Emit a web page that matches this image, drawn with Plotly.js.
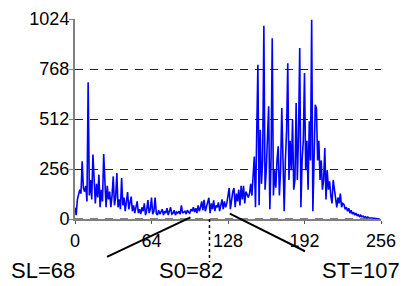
<!DOCTYPE html>
<html>
<head>
<meta charset="utf-8">
<script src="https://cdn.plot.ly/plotly-3.0.1.min.js"></script>
<style>
html,body{margin:0;padding:0;background:#fff;}
#chart{width:404px;height:286px;}
</style>
</head>
<body>
<div id="chart"></div>
<script>
// Grey-level histogram counts (bins 0..255)
const counts = [
  58, 20, 100, 120, 150, 130, 295, 160, 140, 170, 90, 700, 120, 200, 100, 330,
  150, 80, 180, 110, 227, 60, 150, 90, 333, 140, 60, 170, 100, 140, 60, 120,
  218, 70, 110, 235, 60, 100, 50, 210, 70, 110, 40, 90, 138, 50, 80, 115,
  40, 70, 30, 60, 90, 30, 50, 25, 60, 40, 80, 20, 45, 97, 30, 50,
  110, 25, 40, 110, 30, 20, 45, 25, 35, 50, 20, 40, 30, 55, 20, 35,
  60, 25, 30, 45, 20, 35, 30, 40, 25, 70, 30, 35, 40, 25, 45, 35,
  30, 50, 40, 60, 35, 55, 30, 70, 40, 60, 90, 45, 98, 40, 60, 80,
  109, 30, 80, 50, 95, 40, 70, 60, 85, 40, 70, 100, 50, 90, 60, 80,
  120, 159, 50, 100, 140, 159, 60, 130, 90, 150, 70, 170, 100, 170, 80, 140,
  120, 110, 130, 180, 120, 230, 320, 60, 450, 790, 70, 457, 180, 300, 990, 150,
  250, 400, 577, 50, 300, 926, 120, 250, 160, 300, 372, 120, 250, 568, 350, 40,
  300, 450, 798, 200, 400, 250, 508, 150, 200, 594, 200, 430, 875, 60, 300, 400,
  747, 250, 400, 150, 500, 300, 1020, 40, 300, 585, 565, 300, 400, 200, 300, 150,
  200, 363, 100, 250, 150, 193, 120, 80, 200, 150, 100, 60, 110, 80, 130, 60,
  80, 75, 50, 60, 40, 55, 30, 45, 25, 35, 20, 30, 15, 25, 10, 20,
  12, 15, 8, 12, 6, 10, 5, 6, 4, 5, 3, 2, 2, 1, 1, 0
];
const grey = counts.map((_, i) => i);
const xTicks = [0, 64, 128, 192, 256];
const yTicks = [0, 256, 512, 768, 1024];
const labels = ["SL=68", "S0=82", "ST=107"];

const font = "Liberation Sans, Arial, sans-serif";

const trace = {
  x: grey, y: counts, type: "scatter", mode: "lines",
  line: {color: "#0000ff", width: 1.6},
  hoverinfo: "skip"
};

const labelFont = {family: font, size: 22, color: "#000"};

const layout = {
  width: 404, height: 286,
  margin: {l: 75, r: 23, t: 19, b: 67},
  paper_bgcolor: "#fff", plot_bgcolor: "#fff",
  showlegend: false,
  font: {family: font, size: 18, color: "#000"},
  xaxis: {
    range: [0, 256], tickvals: xTicks, ticktext: xTicks.map(String),
    showgrid: false, zeroline: false,
    showline: true, linecolor: "#808080", linewidth: 1.5,
    ticks: "outside", ticklen: 3, tickcolor: "#555", tickwidth: 1,
    ticklabelstandoff: 2,
    tickfont: {family: font, size: 18, color: "#000"}
  },
  yaxis: {
    range: [0, 1024], tickvals: yTicks, ticktext: yTicks.map(String),
    showgrid: true, gridcolor: "#222", gridwidth: 1, griddash: "8px,7px",
    zeroline: false,
    showline: true, linecolor: "#808080", linewidth: 2,
    ticks: "outside", ticklen: 4, tickcolor: "#808080", tickwidth: 1,
    ticklabelstandoff: -4,
    tickfont: {family: font, size: 18, color: "#000"}
  },
  shapes: [
    {type: "line", xref: "x", yref: "paper", x0: 112.5, x1: 112.5, y0: 0, y1: -0.215,
     line: {color: "#000", width: 1.5, dash: "dot"}},
    {type: "line", xref: "paper", yref: "y", x0: 0, x1: 0.98, y0: 0, y1: 0,
     line: {color: "#000", width: 1, dash: "8px,7px"}}
  ],
  annotations: [
    {x: 96.6, y: 8, ax: 25.5, ay: -198, xref: "x", yref: "y", axref: "x", ayref: "y",
     text: "", showarrow: true, arrowhead: 0, arrowwidth: 2, arrowcolor: "#000", standoff: 0, startstandoff: 0},
    {x: 129.5, y: 27, ax: 193.7, ay: -169, xref: "x", yref: "y", axref: "x", ayref: "y",
     text: "", showarrow: true, arrowhead: 0, arrowwidth: 2, arrowcolor: "#000", standoff: 0, startstandoff: 0},
    {x: -0.106, y: -0.258, xref: "paper", yref: "paper", text: labels[0], showarrow: false,
     xanchor: "center", yanchor: "middle", font: labelFont},
    {x: 0.379, y: -0.258, xref: "paper", yref: "paper", text: labels[1], showarrow: false,
     xanchor: "center", yanchor: "middle", font: labelFont},
    {x: 0.935, y: -0.258, xref: "paper", yref: "paper", text: labels[2], showarrow: false,
     xanchor: "center", yanchor: "middle", font: labelFont}
  ]
};

Plotly.newPlot("chart", [trace], layout, {staticPlot: true, displayModeBar: false});
</script>
</body>
</html>
